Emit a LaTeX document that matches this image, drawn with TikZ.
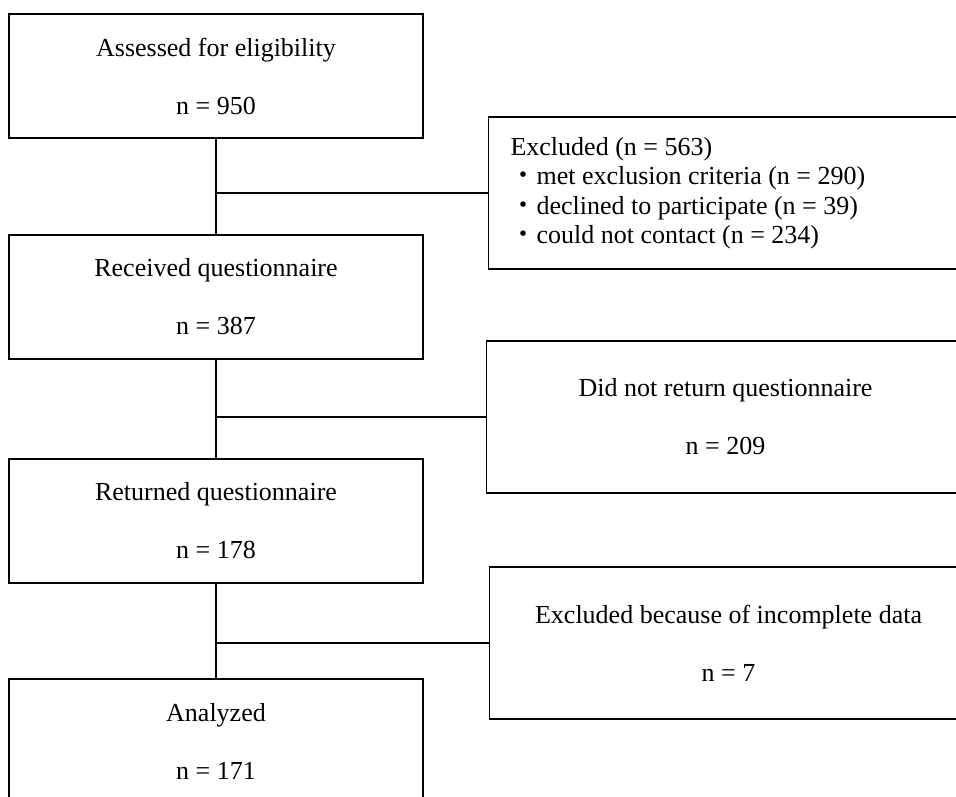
\documentclass[tikz,border=0pt]{standalone}
\usepackage{fontspec}
\setmainfont{Liberation Serif}
\newfontfamily\cjk{Noto Sans CJK JP}
\begin{document}
\begin{tikzpicture}[x=1pt,y=-1pt,
  flowbox/.style={draw,line width=1.1pt,minimum width=414pt,minimum height=124pt,align=center,font=\fontsize{26}{29}\selectfont},
  sidebox/.style={draw,line width=1.1pt,anchor=west,minimum width=478pt,minimum height=152pt,align=center,font=\fontsize{26}{29}\selectfont}]
\useasboundingbox (0,0) rectangle (956,797);
\clip (0,0) rectangle (956,797);

 \node[flowbox] at (216,76)  (assessed) {Assessed for eligibility\\ \\n = 950};
 \node[flowbox] at (216,297) (received) {Received questionnaire\\ \\n = 387};
 \node[flowbox] at (216,521) (returned) {Returned questionnaire\\ \\n = 178};
 \node[flowbox] at (216,741) (analyzed) {Analyzed\\ \\n = 171};

 \node[sidebox,align=flush left,text width=434pt,inner xsep=22pt,font=\fontsize{26}{29.5}\selectfont] at (488,193) (excluded)
   {Excluded (n = 563)\\{\cjk ・}met exclusion criteria (n = 290)\\{\cjk ・}declined to participate (n = 39)\\{\cjk ・}could not contact (n = 234)};
 \node[sidebox] at (486,417) (noreturn) {Did not return questionnaire\\ \\n = 209};
 \node[sidebox] at (489,643) (incomplete) {Excluded because of incomplete data\\ \\n = 7};

\draw[line width=1.1pt](assessed)--(received);
\draw[line width=1.1pt](received)--(returned);
\draw[line width=1.1pt](returned)--(analyzed);

\draw[line width=1.1pt](assessed.south |- excluded.west)--(excluded.west);
\draw[line width=1.1pt](received.south |- noreturn.west)--(noreturn.west);
\draw[line width=1.1pt](returned.south |- incomplete.west)--(incomplete.west);
\end{tikzpicture}
\end{document}
